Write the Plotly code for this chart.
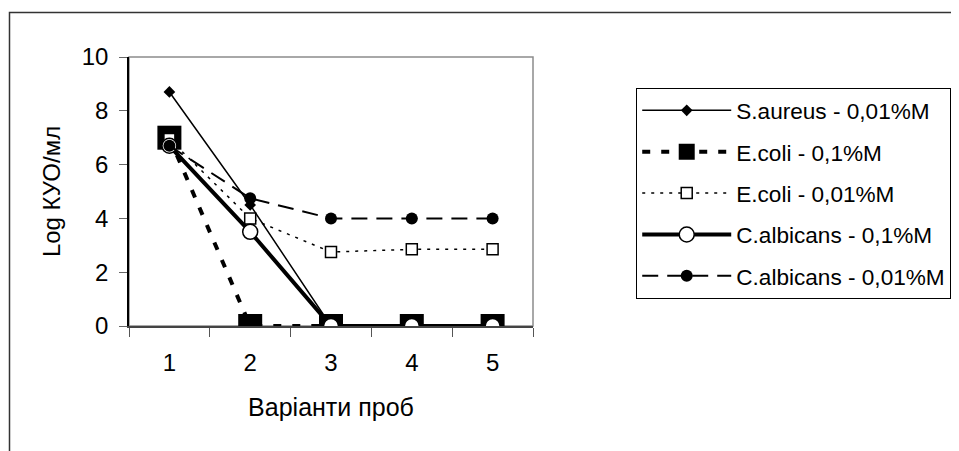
import plotly.graph_objects as go

categories = ["1", "2", "3", "4", "5"]
s_aureus_001 = [8.7, 4.5, 0, 0, 0]
e_coli_01 = [7.0, 0, 0, 0, 0]
e_coli_001 = [6.95, 4.0, 2.75, 2.85, 2.85]
c_albicans_01 = [6.7, 3.5, 0, 0, 0]
c_albicans_001 = [6.7, 4.75, 4.0, 4.0, 4.0]
y_ticks = [0, 2, 4, 6, 8, 10]

FONT = "Liberation Sans, Arial, sans-serif"

fig = go.Figure()

fig.add_trace(go.Scatter(
    x=categories, y=s_aureus_001, name="S.aureus - 0,01%M", legendgroup="a",
    mode="lines+markers", line=dict(color="black", width=1.5),
    marker=dict(symbol="diamond", size=9, color="black")))
fig.add_trace(go.Scatter(
    x=categories, y=e_coli_01, name="E.coli - 0,1%M", legendgroup="b",
    mode="lines+markers", line=dict(color="black", width=4, dash="8px,11px"),
    marker=dict(symbol="square", size=24, color="black")))
fig.add_trace(go.Scatter(
    x=categories, y=e_coli_001, name="E.coli - 0,01%M", legendgroup="c",
    mode="lines+markers", line=dict(color="black", width=1.5, dash="3px,6px"),
    marker=dict(symbol="square", size=11, color="white", line=dict(color="black", width=1.5))))
fig.add_trace(go.Scatter(
    x=categories, y=c_albicans_01, name="C.albicans - 0,1%M", legendgroup="d",
    mode="lines+markers", line=dict(color="black", width=4),
    marker=dict(symbol="circle", size=15, color="white", line=dict(color="black", width=1.5))))
fig.add_trace(go.Scatter(
    x=categories, y=c_albicans_001, name="C.albicans - 0,01%M", legendgroup="e",
    mode="lines+markers", line=dict(color="black", width=2, dash="16px,9px"),
    marker=dict(symbol="circle", size=12, color="black")))

# plot-area frame (grey) and outer chart border
fig.add_shape(type="rect", xref="paper", yref="paper", x0=0, x1=1, y0=0, y1=1,
              line=dict(color="#8c8c8c", width=1.5), layer="below")
fig.add_shape(type="rect", xref="paper", yref="paper", x0=-0.2958, x1=2.3, y0=-0.7, y1=1.1654,
              line=dict(color="#333333", width=1.5), layer="below")

fig.update_layout(
    width=959, height=451,
    margin=dict(l=121, r=434, t=49, b=133, autoexpand=False),
    paper_bgcolor="white", plot_bgcolor="white",
    font=dict(family=FONT, size=24, color="black"),
    showlegend=True,
    legend=dict(x=1.255, y=0.885, xanchor="left", yanchor="top",
                bgcolor="white", bordercolor="black", borderwidth=1.2,
                font=dict(family=FONT, size=22.6, color="black"),
                traceorder="grouped", tracegroupgap=9, itemwidth=89),
    xaxis=dict(type="category", categoryorder="array", categoryarray=categories,
               range=[-0.5, 4.5], tickson="boundaries", ticks="outside", ticklen=9,
               tickcolor="#555555", showline=True, linecolor="#444444", linewidth=1.5,
               showgrid=False, zeroline=False, ticklabelstandoff=14,
               title=dict(text="Варіанти проб", font=dict(size=25), standoff=24),
               tickfont=dict(size=24)),
    yaxis=dict(range=[0, 10], tickvals=y_ticks, ticks="outside", ticklen=8,
               tickcolor="#666666", showline=True, linecolor="black", linewidth=1.5,
               showgrid=False, zeroline=False, ticklabelstandoff=6,
               title=dict(text="Log КУО/мл", font=dict(size=24), standoff=14),
               tickfont=dict(size=24)),
)

fig.write_html("out.html")
